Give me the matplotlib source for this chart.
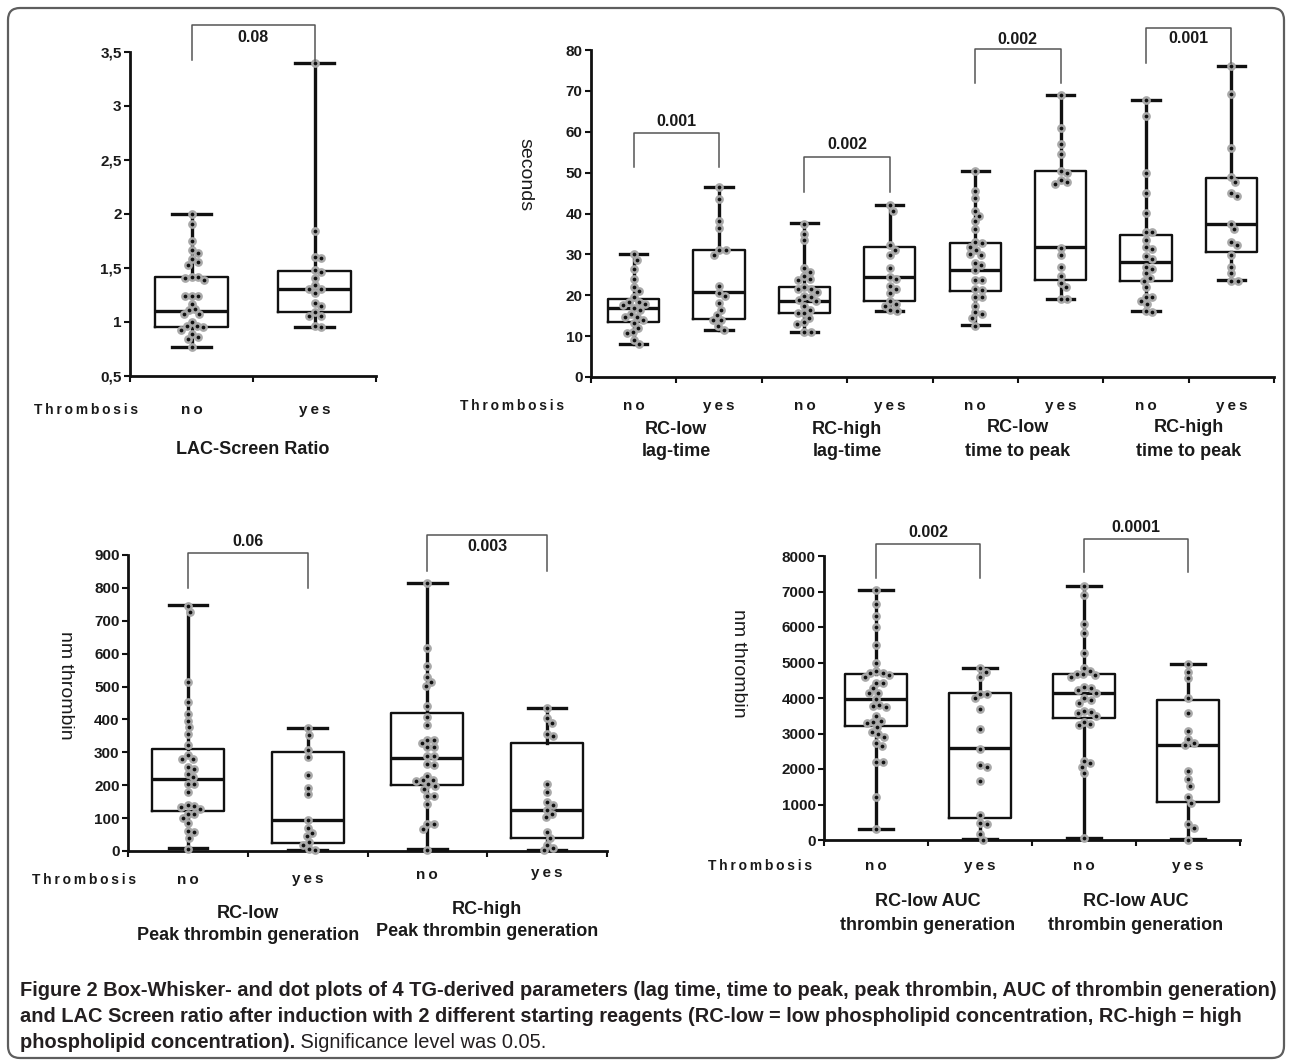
import numpy as np
import matplotlib
matplotlib.use("Agg")
import matplotlib.pyplot as plt
import matplotlib.transforms as mtransforms
from matplotlib.patches import FancyBboxPatch
from matplotlib import font_manager

# ---------------- data ----------------
thrombosis_labels = ["no", "yes"]

# Panel A: LAC-Screen ratio
lac_no = [2.0, 1.91, 1.75, 1.67, 1.64, 1.58, 1.56, 1.53, 1.42, 1.42, 1.39, 1.41, 1.24, 1.24, 1.24,
          1.17, 1.12, 1.11, 1.07, 1.07, 1.0, 0.96, 0.96, 0.95, 0.93, 0.86, 0.89, 0.84, 0.77]
lac_yes = [3.4, 1.84, 1.59, 1.60, 1.48, 1.46, 1.41, 1.34, 1.31, 1.31, 1.27, 1.18, 1.15, 1.09,
           1.06, 1.06, 0.95, 0.96]
# (whisker low, Q1, median, Q3, whisker high)
lac_stats = [(0.77, 0.95, 1.10, 1.42, 2.0), (0.95, 1.09, 1.31, 1.47, 3.4)]
lac_yticks = [0.5, 1, 1.5, 2, 2.5, 3, 3.5]
lac_yticklabels = ["0,5", "1", "1,5", "2", "2,5", "3", "3,5"]
lac_group = "LAC-Screen Ratio"
lac_p = ["0.08"]

# Panel B: lag time and time to peak (seconds)
lag_low_no = [30.1, 28.7, 26.4, 24.0, 22.0, 21.1, 19.5, 18.4, 18.4, 17.9, 17.7, 16.9, 16.5, 15.5,
              14.6, 14.8, 13.2, 14.0, 12.0, 10.7, 10.9, 9.1, 8.1]
lag_low_yes = [46.4, 43.5, 38.1, 36.4, 31.0, 31.0, 29.9, 22.2, 19.9, 20.5, 18.0, 16.5, 15.2, 13.9,
               13.9, 12.5, 11.6]
lag_high_no = [37.5, 35.0, 33.4, 26.6, 25.8, 24.6, 24.0, 23.8, 22.0, 21.5, 21.5, 20.7, 19.5, 19.9,
               18.9, 18.5, 17.4, 16.5, 15.6, 15.6, 14.4, 13.0, 13.4, 10.9, 10.9]
lag_high_yes = [42.0, 40.6, 32.2, 31.1, 29.9, 26.6, 24.4, 24.0, 22.3, 21.5, 20.5, 18.5, 17.9, 17.3,
                16.1, 16.3]
ttp_low_no = [50.5, 45.5, 43.8, 40.6, 39.3, 38.1, 36.3, 32.9, 33.0, 31.9, 30.2, 31.0, 29.9, 28.0,
              27.4, 26.2, 23.8, 23.8, 21.5, 21.3, 19.5, 19.5, 17.4, 15.8, 15.5, 14.4, 12.5]
ttp_low_yes = [68.9, 61.0, 57.0, 54.6, 50.5, 50.0, 48.1, 47.3, 47.6, 31.5, 29.9, 27.0, 24.6, 23.0,
               22.0, 19.1, 19.1]
ttp_high_no = [67.7, 63.9, 50.0, 44.9, 40.1, 35.4, 35.5, 33.5, 31.7, 31.3, 29.5, 28.8, 27.0, 26.3,
               25.4, 24.2, 23.5, 22.0, 19.5, 19.5, 17.9, 18.5, 16.0, 16.2]
ttp_high_yes = [76.1, 69.3, 56.0, 48.9, 47.6, 45.0, 44.4, 37.5, 36.1, 33.1, 32.4, 29.9, 27.0, 25.4,
                23.6, 23.6]
sec_stats = [(8.1, 13.4, 16.9, 19.1, 30.1), (11.6, 14.3, 20.7, 31.0, 46.5),
             (11.0, 15.6, 18.5, 21.9, 37.6), (16.2, 18.7, 24.4, 31.9, 42.0),
             (12.6, 21.1, 26.1, 32.7, 50.5), (19.1, 23.8, 31.7, 50.5, 69.0),
             (16.1, 23.6, 28.2, 34.7, 67.7), (23.8, 30.6, 37.5, 48.8, 76.1)]
sec_yticks = [0, 10, 20, 30, 40, 50, 60, 70, 80]
sec_groups = [("RC-low", "lag-time"), ("RC-high", "lag-time"),
              ("RC-low", "time to peak"), ("RC-high", "time to peak")]
sec_p = ["0.001", "0.002", "0.002", "0.001"]

# Panel C: peak thrombin (nm thrombin)
peak_low_no = [745, 727, 513, 452, 418, 396, 377, 357, 322, 291, 279, 279, 256, 250, 235, 225, 205,
               203, 179, 136, 134, 139, 129, 114, 101, 114, 85, 60, 58, 41, 7]
peak_low_yes = [373, 354, 308, 286, 230, 193, 172, 93, 70, 55, 45, 27, 19, 7, 2]
peak_high_no = [814, 618, 563, 530, 514, 502, 441, 406, 383, 337, 339, 329, 317, 315, 288, 288,
                264, 260, 229, 217, 213, 215, 203, 198, 189, 168, 166, 144, 81, 83, 68, 4]
peak_high_yes = [436, 403, 390, 357, 349, 205, 180, 149, 139, 124, 111, 103, 58, 40, 19, 10, 2]
peak_stats = [(9, 122, 220, 311, 747), (3, 24, 93, 301, 374),
              (5, 202, 284, 420, 814), (2, 41, 126, 329, 436)]
peak_yticks = [0, 100, 200, 300, 400, 500, 600, 700, 800, 900]
peak_groups = [("RC-low", "Peak thrombin generation"), ("RC-high", "Peak thrombin generation")]
peak_p = ["0.06", "0.003"]

# Panel D: AUC thrombin generation (nm thrombin)
auc_low_no = [7043, 6648, 6310, 6010, 5493, 4995, 4714, 4695, 4770, 4648, 4413, 4432, 4601, 4272,
              4150, 4132, 3803, 3775, 3756, 3963, 3493, 3362, 3333, 3305, 3174, 3052, 2986, 2911,
              2742, 2648, 2207, 2207, 1202, 300]
auc_low_yes = [4836, 4742, 4601, 4104, 3991, 4113, 3681, 3118, 2563, 2113, 2066, 1671, 704, 470,
               441, 160, 0]
auc_high_no = [7155, 6902, 6085, 5840, 5258, 4855, 4770, 4676, 4676, 4648, 4601, 4272, 4301, 4226,
               4150, 3991, 3944, 3869, 3634, 3568, 3615, 3493, 3333, 3258, 3240, 2160, 2235, 2066,
               1897, 47]
auc_high_yes = [4958, 4742, 4554, 3991, 3568, 3080, 2836, 2742, 2676, 1944, 1709, 1531, 1221, 1052,
                441, 347, 0]
auc_stats = [(300, 3221, 3963, 4676, 7052), (28, 610, 2582, 4132, 4836),
             (47, 3446, 4132, 4676, 7155), (28, 1080, 2686, 3944, 4958)]
auc_yticks = [0, 1000, 2000, 3000, 4000, 5000, 6000, 7000, 8000]
auc_groups = [("RC-low AUC", "thrombin generation"), ("RC-low AUC", "thrombin generation")]
auc_p = ["0.002", "0.0001"]

caption_bold_1 = ("Figure 2 Box-Whisker- and dot plots of 4 TG-derived parameters (lag time, time to peak, "
                  "peak thrombin, AUC of thrombin generation)")
caption_bold_2 = ("and LAC Screen ratio after induction with 2 different starting reagents "
                  "(RC-low = low phospholipid concentration, RC-high = high")
caption_bold_3 = "phospholipid concentration)."
caption_regular = " Significance level was 0.05."

# ---------------- style ----------------
plt.rcParams["font.family"] = ["Liberation Sans", "DejaVu Sans"]
W, H = 1292, 1064
fig = plt.figure(figsize=(W / 100, H / 100), dpi=100)

bg = fig.add_axes([0, 0, 1, 1])
bg.set_xlim(0, W)
bg.set_ylim(H, 0)
bg.axis("off")
bg.add_patch(FancyBboxPatch((8, 8), W - 16, H - 14, boxstyle="round,pad=0,rounding_size=12",
                            fill=False, ec="#5e5e5e", lw=1.6))

TS = "\u2009"
INK = "#1a1a1a"


def spaced(s):
    return TS.join(s)


def swarm(values, px_x, px_y, d=6.4):
    vals = np.asarray(values, float)
    ypx = vals * px_y
    placed = []
    offs = np.zeros(len(vals))
    for i in np.argsort(-vals):
        y = ypx[i]
        found = None
        k = 0
        while found is None:
            cands = [0.0] if k == 0 else [k * 0.5, -k * 0.5]
            for o in cands:
                if all((o - px) ** 2 + (y - py) ** 2 >= d * d for px, py in placed):
                    found = o
                    break
            k += 1
        placed.append((found, y))
        offs[i] = found / px_x
    return offs


def panel(x0, x1, ytop, ybot, ylim, yticks, yticklabels, values, stats):
    ax = fig.add_axes([x0 / W, 1 - ybot / H, (x1 - x0) / W, (ybot - ytop) / H])
    n = len(values)
    ax.set_xlim(-0.5, n - 0.5)
    ax.set_ylim(*ylim)
    st = [dict(whislo=s[0], q1=s[1], med=s[2], q3=s[3], whishi=s[4]) for s in stats]
    ax.bxp(st, positions=list(range(n)), widths=0.6, capwidths=0.32, showfliers=False,
           manage_ticks=False,
           boxprops=dict(color="#111111", lw=1.7),
           whiskerprops=dict(color="#111111", lw=2.4),
           capprops=dict(color="#111111", lw=2.4),
           medianprops=dict(color="#111111", lw=2.4))
    px_x = (x1 - x0) / n
    px_y = (ybot - ytop) / (ylim[1] - ylim[0])
    for i, v in enumerate(values):
        offs = swarm(v, px_x, px_y)
        ax.plot(i + offs, v, "o", ms=6.3, color="#a9a9a9", mew=0, zorder=5, clip_on=False)
        ax.plot(i + offs, v, "o", ms=2.7, color="#111111", mew=0, zorder=6, clip_on=False)
    for s in ["top", "right"]:
        ax.spines[s].set_visible(False)
    for s in ["left", "bottom"]:
        ax.spines[s].set_linewidth(2.0)
        ax.spines[s].set_color("#111111")
    ax.set_xticks(np.arange(n + 1) - 0.5)
    ax.set_xticklabels([])
    ax.tick_params(axis="x", direction="out", length=4, width=1.5, color="#111111")
    ax.set_yticks(yticks)
    ax.set_yticklabels(yticklabels, fontweight="bold", fontsize=11, color=INK)
    ax.tick_params(axis="y", direction="out", length=4, width=1.5, pad=2, color="#111111")
    ax.patch.set_alpha(0)
    return ax


def bracket(ax, i, j, ytop, yleg_i, yleg_j, ytext, label):
    ax.plot([i, i, j, j], [yleg_i, ytop, ytop, yleg_j], color="#555555", lw=1.1, clip_on=False,
            zorder=7)
    ax.text((i + j) / 2, ytext, label, ha="center", va="center", fontsize=11.5,
            fontweight="bold", color=INK, clip_on=False)


def xlabels(ax, ylab, thr_x):
    tr = mtransforms.blended_transform_factory(ax.transData, bg.transData)
    n = len(ax.get_xticks()) - 1
    for i in range(n):
        lab = thrombosis_labels[i % 2]
        bg.text(i, ylab[i], spaced(lab), transform=tr, ha="center", va="center",
                fontsize=11, fontweight="bold", color=INK)
    bg.text(thr_x, ylab[0], spaced("Thrombosis"), ha="center", va="center", fontsize=10,
            fontweight="bold", color=INK)


def grouplabels(ax, groups, y1, y2):
    tr = mtransforms.blended_transform_factory(ax.transData, bg.transData)
    for g, (a, b) in enumerate(groups):
        xc = 2 * g + 0.5
        bg.text(xc, y1[g], a, transform=tr, ha="center", va="center", fontsize=13,
                fontweight="bold", color=INK)
        bg.text(xc, y2[g], b, transform=tr, ha="center", va="center", fontsize=13,
                fontweight="bold", color=INK)


# Panel A
axA = panel(130, 376, 52, 376, (0.5, 3.5), lac_yticks, lac_yticklabels, [lac_no, lac_yes], lac_stats)
bracket(axA, 0, 1, 3.75, 3.43, 3.42, 3.63, lac_p[0])
xlabels(axA, [410, 410], 86)
bg.text(253, 450, lac_group, ha="center", va="center", fontsize=13, fontweight="bold", color=INK)

# Panel B
axB = panel(591, 1274, 50, 377, (0, 80), sec_yticks, [str(t) for t in sec_yticks],
            [lag_low_no, lag_low_yes, lag_high_no, lag_high_yes,
             ttp_low_no, ttp_low_yes, ttp_high_no, ttp_high_yes], sec_stats)
bracket(axB, 0, 1, 59.7, 51.4, 51.4, 62.4, sec_p[0])
bracket(axB, 2, 3, 53.8, 45.3, 45.3, 57.0, sec_p[1])
bracket(axB, 4, 5, 80.2, 71.9, 71.9, 82.6, sec_p[2])
bracket(axB, 6, 7, 85.4, 76.8, 76.8, 82.7, sec_p[3])
xlabels(axB, [406] * 8, 512)
grouplabels(axB, sec_groups, [430, 430, 428, 428], [452, 452, 451, 451])
bg.text(525, 175, "seconds", rotation=270, ha="center", va="center", fontsize=14, color=INK)

# Panel C
axC = panel(128, 607, 555, 851, (0, 900), peak_yticks, [str(t) for t in peak_yticks],
            [peak_low_no, peak_low_yes, peak_high_no, peak_high_yes], peak_stats)
bracket(axC, 0, 1, 906, 800, 800, 940, peak_p[0])
bracket(axC, 2, 3, 961, 851, 851, 927, peak_p[1])
xlabels(axC, [880, 879, 875, 873], 84)
grouplabels(axC, peak_groups, [913, 910], [935, 932])
bg.text(65, 685, "nm thrombin", rotation=270, ha="center", va="center", fontsize=14, color=INK)

# Panel D
axD = panel(824, 1240, 556, 840, (0, 8000), auc_yticks, [str(t) for t in auc_yticks],
            [auc_low_no, auc_low_yes, auc_high_no, auc_high_yes], auc_stats)
bracket(axD, 0, 1, 8338, 7380, 7380, 8648, auc_p[0])
bracket(axD, 2, 3, 8479, 7549, 7549, 8789, auc_p[1])
xlabels(axD, [866] * 4, 760)
grouplabels(axD, auc_groups, [902, 902], [926, 926])
bg.text(739, 663, "nm thrombin", rotation=270, ha="center", va="center", fontsize=14, color=INK)

# Caption
names = {f.name for f in font_manager.fontManager.ttflist}
cap_family = ["Liberation Sans Narrow", "Liberation Sans"] if "Liberation Sans Narrow" in names \
    else ["Liberation Sans"]
renderer = fig.canvas.get_renderer()
t1 = bg.text(20, 991, caption_bold_1, ha="left", va="center", fontsize=13, fontweight="bold",
             family=cap_family, color="#231f20")
w1 = t1.get_window_extent(renderer).width
fs = 13 * (1255 / w1)
t1.set_fontsize(fs)
bg.text(20, 1017, caption_bold_2, ha="left", va="center", fontsize=fs, fontweight="bold",
        family=cap_family, color="#231f20")
t3 = bg.text(20, 1043, caption_bold_3, ha="left", va="center", fontsize=fs, fontweight="bold",
             family=cap_family, color="#231f20")
w3 = t3.get_window_extent(renderer).width
bg.text(20 + w3, 1043, caption_regular, ha="left", va="center", fontsize=fs,
        family=cap_family, color="#231f20")

fig.savefig("out.png", dpi=100)
